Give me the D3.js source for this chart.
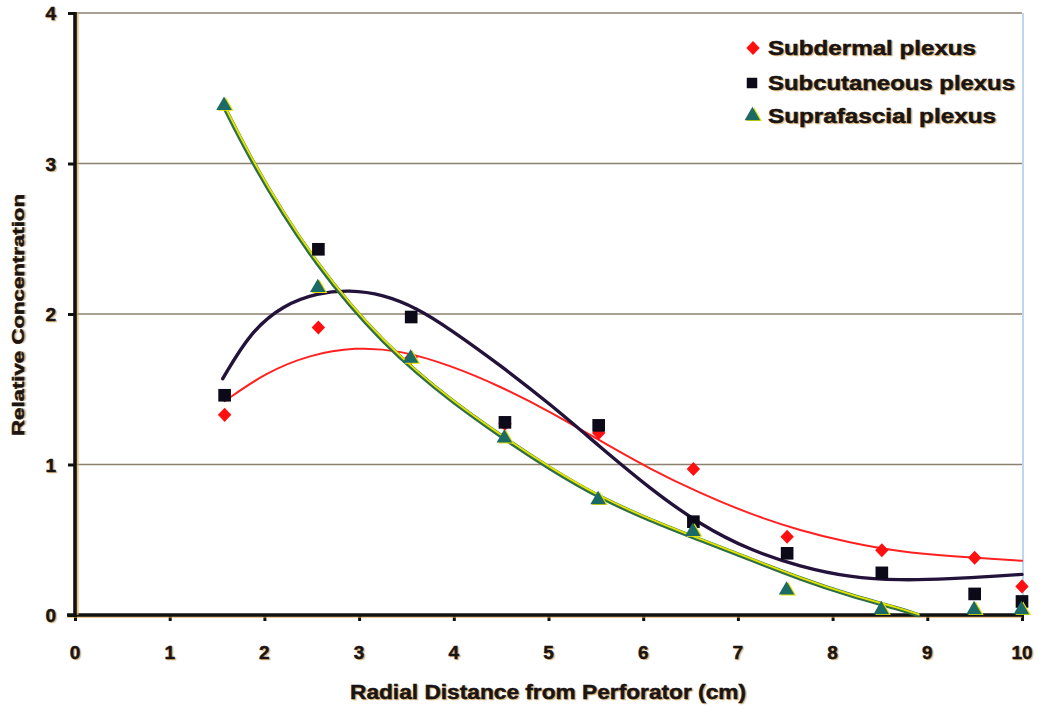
<!DOCTYPE html>
<html><head><meta charset="utf-8">
<script src="https://cdn.jsdelivr.net/npm/d3@7/dist/d3.min.js"></script>
<style>html,body{margin:0;padding:0;background:#fff;}svg{display:block;}</style>
</head><body>
<svg id="chart" width="1039" height="706"></svg>
<script>
// ---- data ----
const xTicks = [0,1,2,3,4,5,6,7,8,9,10];
const yTicks = [0,1,2,3,4];
const pointX = [1.58, 2.57, 3.55, 4.54, 5.53, 6.53, 7.52, 8.52, 9.5, 10];
const subdermal    = [1.33, 1.91, 1.71, 1.27, 1.21, 0.97, 0.52, 0.43, 0.38, 0.19];
const subcutaneous = [1.46, 2.43, 1.98, 1.28, 1.26, 0.62, 0.41, 0.28, 0.14, 0.09];
const suprafascial = [3.37, 2.16, 1.69, 1.16, 0.75, 0.54, 0.15, 0.02, 0.02, 0.02];
// trendlines
const subdermalTrendX = [1.58, 2.01, 2.48, 2.96, 3.43, 3.96, 4.49, 5.02, 5.54, 6.07, 6.60, 7.13, 7.66, 8.18, 8.71, 9.24, 10];
const subdermalTrendY = [1.42, 1.61, 1.73, 1.78, 1.76, 1.66, 1.52, 1.35, 1.16, 0.97, 0.81, 0.67, 0.56, 0.48, 0.42, 0.39, 0.36];
const subcutTrendX = [1.56, 1.85, 2.20, 2.56, 2.90, 3.25, 3.61, 3.96, 4.49, 5.02, 5.54, 6.07, 6.60, 7.13, 7.66, 8.18, 8.71, 9.24, 9.77, 10];
const subcutTrendY = [1.57, 1.88, 2.06, 2.14, 2.16, 2.13, 2.04, 1.90, 1.66, 1.40, 1.12, 0.84, 0.60, 0.43, 0.32, 0.25, 0.23, 0.24, 0.26, 0.27];
const supraTrendX = [1.58, 1.82, 2.20, 2.56, 2.90, 3.25, 3.61, 3.96, 4.49, 5.02, 5.54, 6.07, 6.60, 7.13, 7.66, 8.18, 8.71, 8.90];
const supraTrendY = [3.37, 3.07, 2.66, 2.33, 2.06, 1.82, 1.61, 1.43, 1.19, 0.97, 0.78, 0.63, 0.50, 0.37, 0.24, 0.13, 0.04, 0.0];
const seriesNames = ["Subdermal plexus", "Subcutaneous plexus", "Suprafascial plexus"];
const xTitle = "Radial Distance from Perforator (cm)";
const yTitle = "Relative Concentration";

// ---- layout ----
const svg = d3.select("#chart");
const x = d3.scaleLinear().domain([0,10]).range([75,1022]);
const y = d3.scaleLinear().domain([0,4]).range([615,13]);
const FONT = "'Liberation Sans', Arial, sans-serif";
const TXT = "#1a1414";
const SHADOW = "#e0a850";

function shadowText(g, xx, yy, str, opts) {
  const mk = (dx, dy, fill) => {
    const t = g.append("text").attr("x", xx+dx).attr("y", yy+dy).text(str)
      .attr("font-family", FONT).attr("font-weight", "bold")
      .attr("font-size", opts.size).attr("fill", fill)
      .attr("stroke", fill).attr("stroke-width", opts.sw == null ? 0.5 : opts.sw)
      .attr("text-anchor", opts.anchor || "start");
    if (opts.len) t.attr("textLength", opts.len).attr("lengthAdjust", "spacingAndGlyphs");
    if (opts.rotate) t.attr("transform", `rotate(${opts.rotate},${xx+dx},${yy+dy})`);
    return t;
  };
  mk(opts.sdx==null?1.5:opts.sdx, opts.sdy==null?1:opts.sdy, SHADOW).attr("opacity", 0.7);
  mk(0, 0, TXT);
}

// gridlines
svg.append("g").selectAll("line").data(yTicks.filter(d => d > 0)).join("line")
  .attr("x1", x(0)).attr("x2", x(10))
  .attr("y1", d => y(d)).attr("y2", d => y(d))
  .attr("stroke", "#8c8070").attr("stroke-width", 1.6);

// right border (faint blue)
svg.append("line").attr("x1", x(10)+1).attr("x2", x(10)+1).attr("y1", y(4)).attr("y2", y(0))
  .attr("stroke", "#a8c8e8").attr("stroke-width", 1.5);

// axes
const axisG = svg.append("g");
const xAxis = d3.axisBottom(x).tickValues(xTicks).tickSize(6).tickFormat("");
const gx = axisG.append("g").attr("transform", `translate(0,${y(0)})`).call(xAxis);
gx.select(".domain").remove();
gx.selectAll(".tick line").attr("stroke", "#111").attr("stroke-width", 3);
axisG.append("line").attr("x1", x(0)-8).attr("x2", x(10)).attr("y1", y(0)+1.5).attr("y2", y(0)+1.5)
  .attr("stroke", SHADOW).attr("stroke-width", 3).attr("opacity", 0.6);
axisG.append("line").attr("x1", x(0)-8).attr("x2", x(10)).attr("y1", y(0)).attr("y2", y(0))
  .attr("stroke", "#111").attr("stroke-width", 3.4);
const yAxis = d3.axisLeft(y).tickValues(yTicks).tickSize(7).tickFormat("");
const gy = axisG.append("g").attr("transform", `translate(${x(0)},0)`).call(yAxis);
gy.select(".domain").remove();
gy.selectAll(".tick line").attr("stroke", "#111").attr("stroke-width", 3);
axisG.append("line").attr("x1", x(0)+2.2).attr("x2", x(0)+2.2).attr("y1", y(4)-1).attr("y2", y(0))
  .attr("stroke", SHADOW).attr("stroke-width", 3).attr("opacity", 0.7);
axisG.append("line").attr("x1", x(0)).attr("x2", x(0)).attr("y1", y(4)-1).attr("y2", y(0)+2)
  .attr("stroke", "#111").attr("stroke-width", 3.6);

// tick labels
const labG = svg.append("g");
xTicks.forEach(t => shadowText(labG, x(t), 659, String(t), {size: 19, anchor: "middle"}));
yTicks.forEach(t => shadowText(labG, 56, y(t) + 7, String(t), {size: 19, anchor: "end"}));

// axis titles
shadowText(labG, 548, 699, xTitle, {size: 20, anchor: "middle", len: 396});
shadowText(labG, 24, 315, yTitle, {size: 17, anchor: "middle", len: 242, rotate: -90, sdx: 1.5, sdy: 0});

// ---- trendlines ----
const line = d3.line().x(d => x(d[0])).y(d => y(d[1])).curve(d3.curveBasis);
const zip = (a, b) => a.map((v, i) => [v, b[i]]);
const lines = svg.append("g").attr("fill", "none").attr("stroke-linecap", "round");
lines.append("path").attr("d", line(zip(subdermalTrendX, subdermalTrendY)))
  .attr("stroke", "#ff2020").attr("stroke-width", 2);
lines.append("path").attr("d", line(zip(subcutTrendX, subcutTrendY)))
  .attr("stroke", "#23123a").attr("stroke-width", 3.4);
lines.append("path").attr("d", line(zip(supraTrendX, supraTrendY)))
  .attr("stroke", "#2f6e48").attr("stroke-width", 4.4);
lines.append("path").attr("d", line(zip(supraTrendX, supraTrendY)))
  .attr("transform", "translate(0.8,-0.6)")
  .attr("stroke", "#e2e400").attr("stroke-width", 1.9);

// ---- markers ----
const diamond = d3.symbol().type(d3.symbolDiamond2).size(115);
const square = d3.symbol().type(d3.symbolSquare).size(160);
const tri = d3.symbol().type(d3.symbolTriangle).size(105);

function drawDiamond(g, cx, cy) {
  g.append("path").attr("d", diamond()).attr("transform", `translate(${cx},${cy}) scale(1,1.05)`)
    .attr("fill", "#ff1010");
}
function drawSquare(g, cx, cy, s) {
  g.append("path").attr("d", (s || square)()).attr("transform", `translate(${cx},${cy})`)
    .attr("fill", "#0c0a18");
}
function drawTri(g, cx, cy) {
  g.append("path").attr("d", tri()).attr("transform", `translate(${cx+1.2},${cy+0.5})`)
    .attr("fill", "#e4e000");
  g.append("path").attr("d", tri()).attr("transform", `translate(${cx-0.6},${cy-0.3})`)
    .attr("fill", "#1c6a66");
}

const mk = svg.append("g");
pointX.forEach((px, i) => drawDiamond(mk, x(px), y(subdermal[i])));
pointX.forEach((px, i) => drawSquare(mk, x(px), y(subcutaneous[i])));
pointX.forEach((px, i) => drawTri(mk, x(px), y(suprafascial[i]) - 2));

// ---- legend ----
const lg = svg.append("g");
const legY = [48, 83, 116];
const legLen = [208, 247, 228];
drawDiamond(lg, 753, legY[0]);
drawSquare(lg, 752, legY[1], d3.symbol().type(d3.symbolSquare).size(110));
drawTri(lg, 753, legY[2]);
seriesNames.forEach((n, i) => shadowText(lg, 768, legY[i] + 7, n, {size: 20, len: legLen[i]}));
</script>
</body></html>
